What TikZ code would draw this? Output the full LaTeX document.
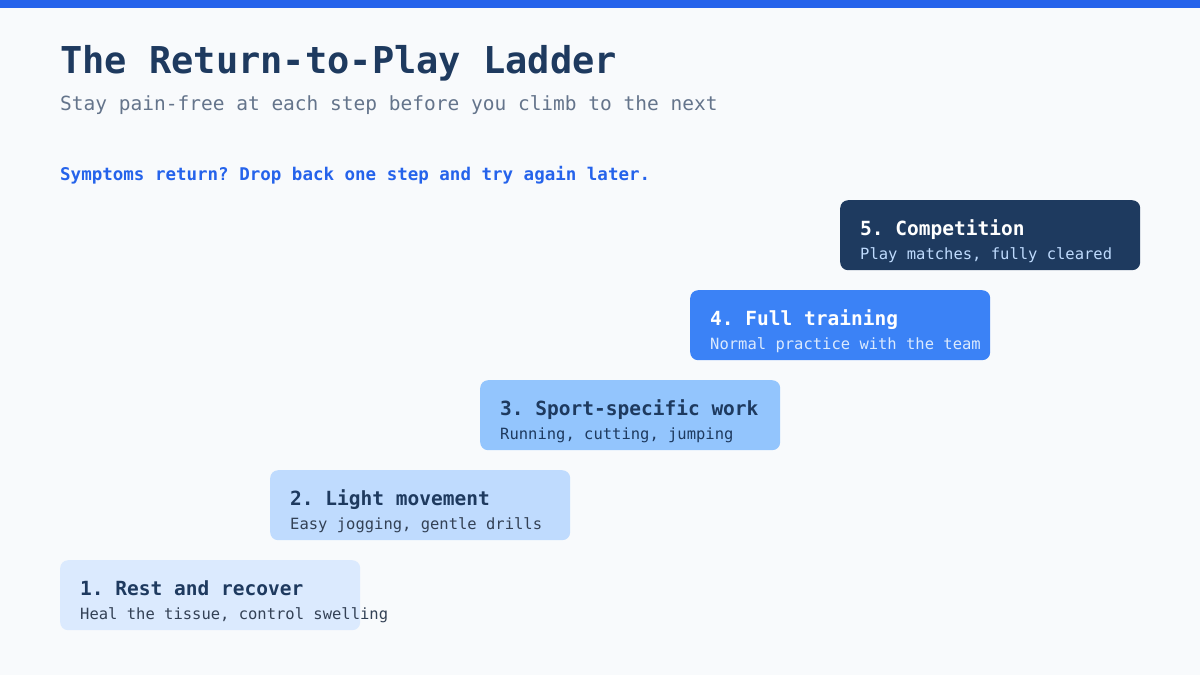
\documentclass[tikz,border=0pt]{standalone}
\usepackage{fontspec}
\setmainfont{DejaVu Sans Mono}
\usepackage{tikz}
\usetikzlibrary{positioning}
\frenchspacing

\definecolor{pagebg}{HTML}{F8FAFC}
\definecolor{topbar}{HTML}{2563EB}
\definecolor{navy}{HTML}{1E3A5F}
\definecolor{slate}{HTML}{64748B}
\definecolor{darktext}{HTML}{334155}
\definecolor{stepA}{HTML}{DBEAFE}
\definecolor{stepB}{HTML}{BFDBFE}
\definecolor{stepC}{HTML}{93C5FD}
\definecolor{stepD}{HTML}{3B82F6}
\definecolor{stepE}{HTML}{1E3A5F}

\tikzset{
    rung/.style={anchor=north west, inner sep=0pt, rounded corners=8pt,
        minimum width=300pt, minimum height=70pt},
    rungtitle/.style={anchor=base west, inner sep=0pt, font=\bfseries\fontsize{19.5}{22}\selectfont},
    rungtext/.style={anchor=base west, inner sep=0pt, font=\fontsize{15.5}{18}\selectfont},
}

\begin{document}
\begin{tikzpicture}[x=1pt, y=-1pt]

    \fill[pagebg] (0,0) rectangle (1200,675);
    \useasboundingbox (0,0) rectangle (1200,675);
    \fill[topbar] (0,0) rectangle (1200,8);

    \node[anchor=base west, inner sep=0pt, text=navy,
          font=\bfseries\fontsize{37}{42}\selectfont]      (title) at (60,73)  {The Return-to-Play Ladder};
    \node[anchor=base west, inner sep=0pt, text=slate,
          font=\fontsize{19.5}{23}\selectfont]             (sub)   at (60,110) {Stay pain-free at each step before you climb to the next};
    \node[anchor=base west, inner sep=0pt, text=topbar,
          font=\bfseries\fontsize{17.5}{21}\selectfont]    (note)  at (60,180) {Symptoms return? Drop back one step and try again later.};

    \node[rung, fill=stepA]     (s1) at (60,560)  {};
    \node[rung, fill=stepB]     (s2) at (270,470) {};
    \node[rung, fill=stepC]     (s3) at (480,380) {};
    \node[rung, fill=stepD]     (s4) at (690,290) {};
    \node[rung, fill=stepE]     (s5) at (840,200) {};

    \node[rungtitle, text=navy]      (t1) at ([shift={(20,35)}]s1.north west) {1. Rest and recover};
    \node[rungtext, text=darktext]   (d1) at ([shift={(20,59)}]s1.north west) {Heal the tissue, control swelling};
    \node[rungtitle, text=navy]      (t2) at ([shift={(20,35)}]s2.north west) {2. Light movement};
    \node[rungtext, text=darktext]   (d2) at ([shift={(20,59)}]s2.north west) {Easy jogging, gentle drills};
    \node[rungtitle, text=navy]      (t3) at ([shift={(20,35)}]s3.north west) {3. Sport-specific work};
    \node[rungtext, text=navy]       (d3) at ([shift={(20,59)}]s3.north west) {Running, cutting, jumping};
    \node[rungtitle, text=white]     (t4) at ([shift={(20,35)}]s4.north west) {4. Full training};
    \node[rungtext, text=stepA]      (d4) at ([shift={(20,59)}]s4.north west) {Normal practice with the team};
    \node[rungtitle, text=white]     (t5) at ([shift={(20,35)}]s5.north west) {5. Competition};
    \node[rungtext, text=stepB]      (d5) at ([shift={(20,59)}]s5.north west) {Play matches, fully cleared};

\end{tikzpicture}
\end{document}
